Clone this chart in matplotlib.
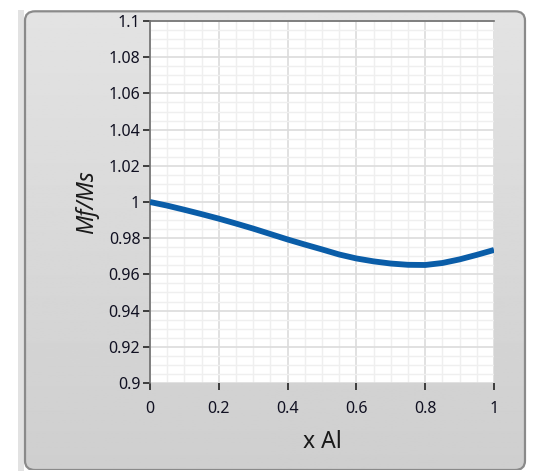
import numpy as np
import matplotlib
matplotlib.use("Agg")
import matplotlib.pyplot as plt
from matplotlib.patches import FancyBboxPatch
from matplotlib.ticker import MultipleLocator

# Mf/Ms against Al fraction
x_al = [0.00, 0.05, 0.10, 0.15, 0.20, 0.25, 0.30, 0.35, 0.40, 0.45, 0.50,
        0.55, 0.60, 0.65, 0.70, 0.75, 0.80, 0.85, 0.90, 0.95, 1.00]
mf_ms = [1.0000, 0.9980, 0.9957, 0.9933, 0.9908, 0.9881, 0.9853, 0.9823,
         0.9793, 0.9765, 0.9738, 0.9710, 0.9688, 0.9672, 0.9660, 0.9653,
         0.9652, 0.9663, 0.9683, 0.9708, 0.9735]

x_ticks = [0, 0.2, 0.4, 0.6, 0.8, 1]
x_labels = ["0", "0.2", "0.4", "0.6", "0.8", "1"]
y_ticks = [0.9, 0.92, 0.94, 0.96, 0.98, 1.0, 1.02, 1.04, 1.06, 1.08, 1.1]
y_labels = ["0.9", "0.92", "0.94", "0.96", "0.98", "1", "1.02", "1.04",
            "1.06", "1.08", "1.1"]

plt.rcParams['font.family'] = ['Noto Sans', 'DejaVu Sans']

W, H = 535, 471
fig = plt.figure(figsize=(W / 100, H / 100), dpi=100)
fig.patch.set_facecolor("white")

# thin window strip on the left, like the LabVIEW front panel edge
strip = fig.add_axes([18 / W, 0, 6 / W, 1 - 10 / H])
strip.set_axis_off()
strip.add_patch(plt.Rectangle((0, 0), 1, 1, transform=strip.transAxes,
                              facecolor="#e2e2e2", edgecolor="none"))

# grey panel with rounded corners and a soft vertical gradient
px0, py0, px1, py1 = 23, 9, 527, 470
bg = fig.add_axes([px0 / W, 1 - py1 / H, (px1 - px0) / W, (py1 - py0) / H])
bg.set_axis_off()
grad = np.linspace(0.89, 0.81, 256).reshape(-1, 1)
im = bg.imshow(grad, cmap="gray", vmin=0, vmax=1, aspect="auto",
               extent=[0, 1, 0, 1])
clip = FancyBboxPatch((0.004, 0.0), 0.992, 0.995,
                      boxstyle="round,pad=0,rounding_size=0.02",
                      transform=bg.transAxes, facecolor="none",
                      edgecolor="#8a8a8a", linewidth=1.6)
bg.add_patch(clip)
im.set_clip_path(clip)
bg.set_xlim(0, 1)
bg.set_ylim(0, 1)

ax = fig.add_axes([150 / W, 1 - 383 / H, 344 / W, 362 / H])
ax.set_facecolor("white")
ax.plot(x_al, mf_ms, color="#0a5da8", linewidth=4.2, solid_capstyle="butt",
        zorder=3)

ax.set_xlim(0, 1)
ax.set_ylim(0.9, 1.1)
ax.set_xticks(x_ticks)
ax.set_xticklabels(x_labels)
ax.set_yticks(y_ticks)
ax.set_yticklabels(y_labels)
ax.xaxis.set_minor_locator(MultipleLocator(0.05))
ax.yaxis.set_minor_locator(MultipleLocator(0.005))

ax.grid(which="major", color="#dcdcdc", linewidth=1.2, zorder=0)
ax.grid(which="minor", color="#efefef", linewidth=1.0, zorder=0)
ax.set_axisbelow(True)

for side in ["right", "bottom"]:
    ax.spines[side].set_visible(False)
for side in ["left", "top"]:
    ax.spines[side].set_color("#6e6e6e")
    ax.spines[side].set_linewidth(1.2)

ax.tick_params(which="major", direction="out", length=5, width=1.2,
               color="#222222", labelsize=11.5, labelcolor="#111122", pad=2)
ax.tick_params(which="minor", length=0)
ax.tick_params(axis="x", pad=8)

ax.set_xlabel("x Al", fontsize=16.5, color="#1a1a1a", labelpad=9)
ax.set_ylabel("Mf/Ms", fontsize=16.5, color="#1a1a1a", style="italic",
              labelpad=7)

fig.savefig("out.png", dpi=100)
